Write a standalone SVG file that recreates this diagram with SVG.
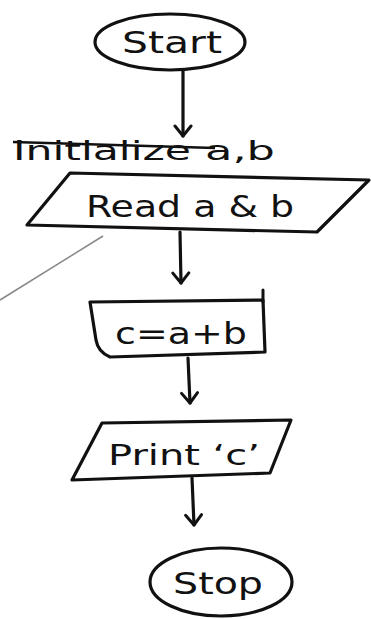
<svg xmlns="http://www.w3.org/2000/svg" width="371" height="619" viewBox="0 0 371 619">
<style>
.s{fill:#fff;stroke:#111;stroke-width:3.2;stroke-linejoin:round;stroke-linecap:round}
.t{font-family:"DejaVu Sans","Liberation Sans",sans-serif;fill:#111;text-anchor:middle}
.c{fill:none;stroke:#111;stroke-width:3.2;stroke-linecap:round}
</style>
<defs>
<marker id="ah" viewBox="0 0 20 20" refX="16" refY="10" markerWidth="20" markerHeight="20" markerUnits="userSpaceOnUse" orient="auto">
<polyline points="6,2 16,10 6,18" fill="none" stroke="#111" stroke-width="3" stroke-linecap="round" stroke-linejoin="round"/>
</marker>
</defs>
<rect width="371" height="619" fill="#fff"/>
<line x1="0" y1="300" x2="103" y2="236" stroke="#888" stroke-width="1.5"/>
<g id="connectors">
<path class="c" d="M183,70 L183,136" marker-end="url(#ah)"/>
<path class="c" d="M180,232 L181,283" marker-end="url(#ah)"/>
<path class="c" d="M188,358 L190,403" marker-end="url(#ah)"/>
<path class="c" d="M192,478 L194,525" marker-end="url(#ah)"/>
</g>
<g id="start">
<ellipse class="s" cx="170" cy="42" rx="75" ry="28"/>
<text class="t" x="172" y="53" font-size="30" textLength="100" lengthAdjust="spacingAndGlyphs">Start</text>
</g>
<g id="initialize">
<text class="t" x="102" y="160" font-size="26" textLength="178" lengthAdjust="spacingAndGlyphs">Initialize</text>
<text class="t" x="240" y="160" font-size="26" textLength="70" lengthAdjust="spacingAndGlyphs">a,b</text>
<line x1="13" y1="142" x2="215" y2="148" stroke="#111" stroke-width="2.5"/>
</g>
<g id="read">
<polygon class="s" points="70,173 369,180 317,232 27,225"/>
<text class="t" x="190" y="217" font-size="30" textLength="208" lengthAdjust="spacingAndGlyphs">Read a &amp; b</text>
</g>
<g id="process">
<path class="s" d="M90,302 L263,300 L265,352 L110,357 Q98,352 96,340 Z"/>
<line x1="263" y1="290" x2="263" y2="302" stroke="#111" stroke-width="3" stroke-linecap="round"/>
<text class="t" x="181" y="344" font-size="30" textLength="132" lengthAdjust="spacingAndGlyphs">c=a+b</text>
</g>
<g id="print">
<polygon class="s" points="102,423 291,420 270,473 72,480"/>
<text class="t" x="184" y="465" font-size="28" textLength="152" lengthAdjust="spacingAndGlyphs">Print ‘c’</text>
</g>
<g id="stop">
<ellipse class="s" cx="221" cy="582" rx="71" ry="34"/>
<text class="t" x="218" y="594" font-size="30" textLength="90" lengthAdjust="spacingAndGlyphs">Stop</text>
</g>
</svg>
